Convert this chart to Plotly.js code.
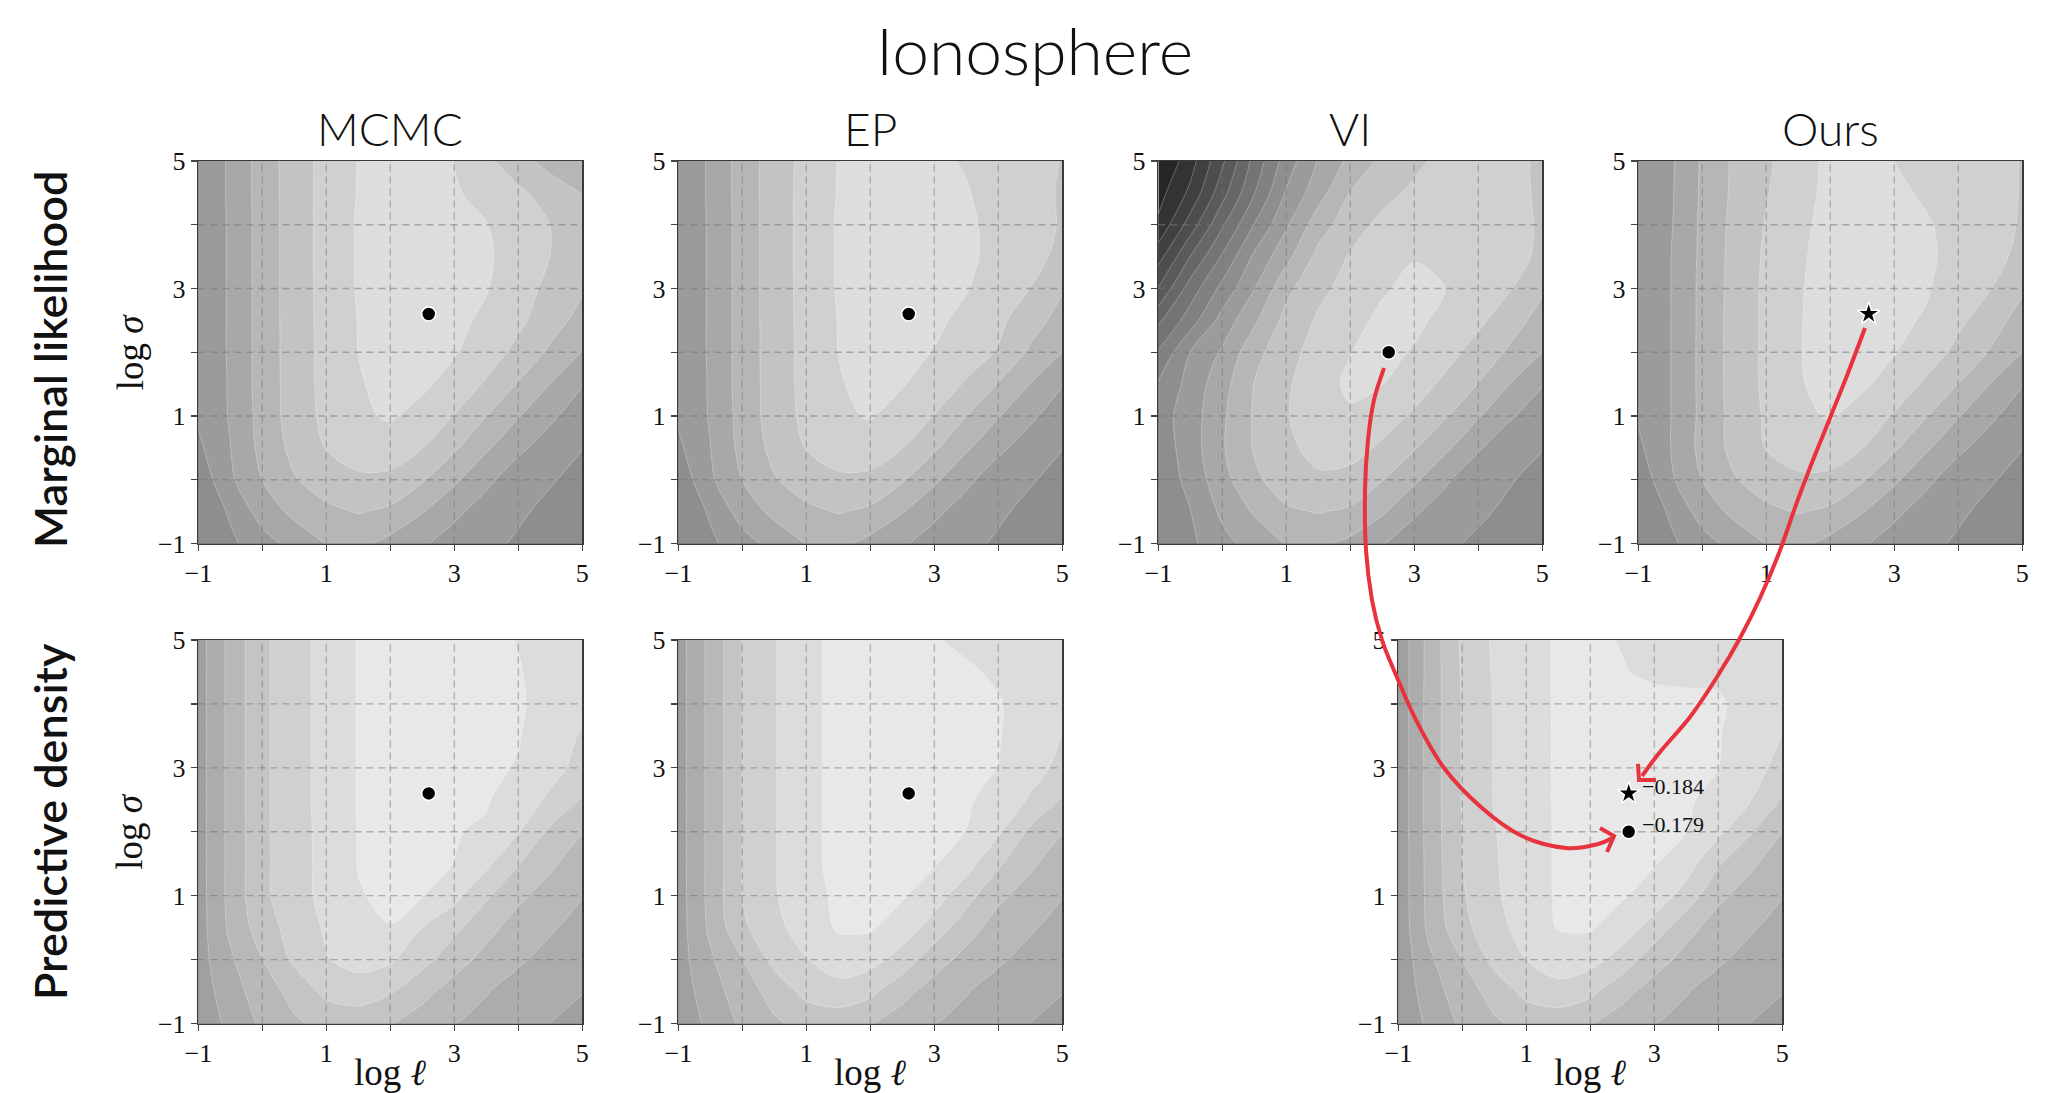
<!DOCTYPE html>
<html><head><meta charset="utf-8">
<script src="https://cdn.plot.ly/plotly-3.0.1.min.js"></script>
<style>html,body{margin:0;padding:0;background:#fff}#chart{width:2067px;height:1093px}</style>
</head><body><div id="chart"></div>
<script>
// ---------------- data ----------------
const figTitle = 'Ionosphere';
const colTitles = ['MCMC', 'EP', 'VI', 'Ours'];
const rowLabels = ['Marginal likelihood', 'Predictive density'];
const xTitle = 'log <i>ℓ</i>';
const yTitle = 'log <i>σ</i>';
const tickVals = [-1, 0, 1, 2, 3, 4, 5];
const tickText = ['−1', '', '1', '', '3', '', '5'];
const gridVals = [0, 1, 2, 3, 4];

const logEll = [-1, -0.5, 0, 0.5, 1, 1.5, 2, 2.5, 3, 3.5, 4, 4.5, 5];
const logSigma = [5, 4.5, 4, 3.5, 3, 2.5, 2, 1.5, 1, 0.5, 0, -0.5, -1]; // rows below, top to bottom

const margMCMC = [
 [9.15,10.15,11.44,12.51,13.33,14.04,14.35,14.35,13.99,13.24,12.4,11.6,11.15],
 [9.15,10.15,11.42,12.5,13.34,14.05,14.35,14.4,14.1,13.69,13.18,12.6,11.95],
 [9.15,10.12,11.42,12.49,13.35,14.1,14.4,14.5,14.3,14.03,13.53,12.99,12.5],
 [9.15,10.12,11.42,12.49,13.35,14.1,14.45,14.5,14.35,14.12,13.62,12.99,12.45],
 [9.15,10.12,11.42,12.49,13.34,14.08,14.45,14.5,14.3,14.05,13.45,12.73,12.1],
 [9.15,10.12,11.42,12.48,13.33,14.03,14.35,14.4,14.2,13.85,13.22,12.44,11.65],
 [9.15,10.12,11.42,12.47,13.3,14.01,14.3,14.3,14.08,13.47,12.73,11.82,10.97],
 [9.15,10.1,11.41,12.46,13.3,13.93,14.25,14.18,13.64,12.88,11.93,10.99,10.05],
 [9.15,10.08,11.38,12.45,13.24,13.82,14.12,13.66,12.96,12.02,11.06,10.18,9.5],
 [8.8,9.98,11.3,12.28,13.04,13.4,13.45,13.02,12.15,11.15,10.2,9.55,9.03],
 [8.3,9.83,11.01,11.93,12.5,12.85,12.8,12.1,11.18,10.2,9.5,9.1,8.65],
 [8.1,9.14,10.43,11.25,11.78,12.06,11.8,11.05,10.18,9.63,9.18,8.7,8.3],
 [8.2,8.8,9.6,10.34,11.03,11.25,10.7,10.1,9.65,9.27,8.85,8.5,8.2]
];
const margEP = [
 [9.15,10.15,11.44,12.5,13.3,14.04,14.35,14.4,14.15,13.94,13.6,13.3,12.97],
 [9.15,10.15,11.42,12.5,13.34,14.05,14.35,14.4,14.2,14.05,13.7,13.33,12.9],
 [9.15,10.12,11.42,12.49,13.35,14.1,14.4,14.5,14.3,14.12,13.8,13.35,12.92],
 [9.15,10.12,11.42,12.49,13.35,14.1,14.45,14.5,14.35,14.15,13.77,13.26,12.8],
 [9.15,10.12,11.42,12.49,13.34,14.08,14.45,14.5,14.3,14.05,13.55,12.99,12.1],
 [9.15,10.12,11.42,12.48,13.33,14.03,14.35,14.4,14.18,13.78,13.22,12.45,11.6],
 [9.15,10.12,11.42,12.47,13.3,14.01,14.3,14.3,13.96,13.45,12.93,11.83,11.01],
 [9.15,10.1,11.41,12.46,13.3,13.93,14.25,14.06,13.55,12.9,11.95,10.99,10.05],
 [9.15,10.08,11.38,12.45,13.24,13.82,14.08,13.6,12.97,12.02,11.06,10.18,9.5],
 [8.8,9.98,11.3,12.28,13.04,13.4,13.45,13.02,12.15,11.15,10.2,9.55,9.03],
 [8.3,9.83,11.01,11.93,12.5,12.85,12.8,12.1,11.18,10.2,9.5,9.1,8.65],
 [8.1,9.14,10.43,11.25,11.78,12.06,11.8,11.05,10.18,9.63,9.18,8.7,8.3],
 [8.2,8.8,9.6,10.34,11.03,11.25,10.7,10.1,9.65,9.27,8.85,8.5,8.2]
];
const margVI = [
 [-0.1,1.58,3.81,6.33,8.48,10.07,11.26,12.22,12.78,13.3,13.5,13.3,12.8],
 [0.6,2.23,4.63,6.96,9.09,10.6,12.03,12.7,13.2,13.45,13.55,13.35,12.8],
 [1.2,3.47,5.86,8.04,9.87,11.54,12.59,13.25,13.55,13.7,13.65,13.4,12.85],
 [2.6,5.02,7.12,9.19,10.7,12.29,13.08,13.5,13.95,13.95,13.7,13.35,12.8],
 [4.05,6.46,8.3,9.97,11.75,12.75,13.37,13.9,14.25,13.99,13.5,13.05,12.15],
 [5.8,7.52,9.4,10.82,12.32,13.13,13.7,14.2,14.2,13.75,13.2,12.45,11.6],
 [7.1,9.02,10.14,11.67,12.67,13.37,13.98,14.25,13.92,13.32,12.63,11.82,11.01],
 [8.1,9.35,10.63,12.03,12.87,13.56,14.2,14.02,13.42,12.78,11.98,10.99,10.05],
 [8.55,9.5,10.84,12.1,12.93,13.6,13.85,13.4,12.87,12.06,11.1,10.1,9.5],
 [8.4,9.5,10.9,12.08,12.8,13.3,13.35,12.85,12.07,11.18,10.1,9.4,9.05],
 [8.3,9.3,10.66,11.81,12.5,12.85,12.7,12.03,11.18,10.1,9.45,9.08,8.6],
 [8.3,8.97,10.2,11.1,11.85,12.05,11.85,11.15,10.1,9.62,9.2,8.75,8.4],
 [8.3,8.8,9.7,10.4,11.05,11.2,10.75,10.05,9.6,9.2,8.8,8.5,8.2]
];
const margOurs = [
 [9.1,9.82,11.14,12.16,12.82,13.63,14.2,14.3,13.99,13.74,13.48,13.23,12.97],
 [9.1,9.86,11.16,12.2,12.93,13.71,14.2,14.35,14.15,13.9,13.58,13.27,12.96],
 [9.1,9.9,11.2,12.27,13.07,13.82,14.25,14.4,14.3,14.07,13.75,13.33,12.92],
 [9.1,9.97,11.22,12.32,13.15,13.88,14.3,14.45,14.35,14.12,13.77,13.26,12.8],
 [9.1,9.98,11.25,12.35,13.19,13.93,14.3,14.4,14.25,14.07,13.6,13.04,12.15],
 [9.1,9.98,11.25,12.37,13.2,13.95,14.3,14.35,14.15,13.93,13.22,12.45,11.6],
 [9.1,9.98,11.26,12.38,13.2,13.96,14.3,14.25,14.05,13.5,12.73,11.93,11.01],
 [9.1,9.98,11.26,12.37,13.2,13.93,14.25,14.15,13.62,12.83,11.99,10.99,10.05],
 [9.1,9.98,11.24,12.35,13.12,13.75,14.1,13.6,12.9,12.05,11.06,10.18,9.5],
 [8.8,9.98,11.3,12.28,13.04,13.4,13.45,13.02,12.15,11.15,10.2,9.55,9.03],
 [8.3,9.83,11.01,11.93,12.5,12.85,12.8,12.1,11.18,10.2,9.5,9.1,8.65],
 [8.1,9.14,10.43,11.25,11.78,12.06,11.8,11.05,10.18,9.63,9.18,8.7,8.3],
 [8.2,8.8,9.6,10.34,11.03,11.25,10.7,10.1,9.65,9.27,8.85,8.5,8.2]
];
const predMCMC = [
 [8.55,10.29,11.81,12.61,13.35,14.05,14.3,14.4,14.35,14.2,13.97,13.7,13.45],
 [8.55,10.29,11.81,12.61,13.35,14.05,14.3,14.4,14.35,14.25,14.05,13.7,13.4],
 [8.55,10.29,11.81,12.61,13.35,14.05,14.3,14.4,14.4,14.3,14.1,13.7,13.35],
 [8.55,10.29,11.81,12.61,13.35,14.05,14.3,14.4,14.4,14.25,14.05,13.5,12.9],
 [8.55,10.29,11.81,12.61,13.35,14.05,14.3,14.45,14.3,14.15,13.95,13.3,12.7],
 [8.55,10.29,11.81,12.61,13.35,14.05,14.3,14.4,14.25,14.08,13.5,12.85,11.9],
 [8.55,10.29,11.8,12.6,13.32,14.04,14.3,14.2,14.05,13.88,13.05,11.8,11.03],
 [8.55,10.29,11.79,12.6,13.3,14.03,14.25,14.2,13.99,13.22,12.05,11.17,10.45],
 [8.55,10.29,11.79,12.59,13.3,13.95,14.15,14.03,13.3,12.15,11.2,10.6,10.05],
 [8.55,10.2,11.5,12.42,13.12,13.9,13.98,12.99,12.25,11.3,10.6,10.13,9.6],
 [8.55,9.85,10.98,12.2,12.95,13.35,13.15,12.35,11.4,10.7,10.15,9.65,9.3],
 [8.4,9.6,10.48,11.35,12.25,12.5,12.1,11.3,10.6,10.05,9.6,9.3,9.03],
 [8.35,9.25,10.2,10.85,11.3,11.4,11.05,10.55,10.03,9.75,9.4,8.99,8.7]
];
const predEP = [
 [8.55,10.29,12.02,12.93,13.85,14.15,14.35,14.3,14.05,13.85,13.7,13.55,13.45],
 [8.55,10.29,12.02,12.93,13.85,14.15,14.4,14.4,14.25,14.1,13.9,13.7,13.5],
 [8.55,10.29,12.02,12.93,13.85,14.15,14.4,14.45,14.35,14.25,14.05,13.72,13.45],
 [8.55,10.29,12.02,12.93,13.85,14.15,14.4,14.45,14.4,14.25,14.05,13.5,12.95],
 [8.55,10.29,12.02,12.93,13.85,14.15,14.4,14.45,14.35,14.2,13.99,13.35,12.75],
 [8.55,10.29,12.02,12.93,13.85,14.15,14.4,14.4,14.25,14.12,13.65,12.9,11.9],
 [8.55,10.29,12.02,12.93,13.85,14.15,14.35,14.3,14.15,13.99,13.15,11.8,11.03],
 [8.55,10.29,12.02,12.93,13.85,14.15,14.3,14.22,14.08,13.4,12.15,11.17,10.45],
 [8.55,10.29,12.02,12.9,13.8,14.1,14.2,14.1,13.45,12.4,11.2,10.6,10.05],
 [8.55,10.2,11.82,12.7,13.5,14.1,14.12,13.52,12.6,11.4,10.6,10.13,9.6],
 [8.55,9.85,10.98,12.3,12.95,13.55,13.35,12.6,11.4,10.7,10.15,9.65,9.3],
 [8.4,9.6,10.48,11.4,12.3,12.6,12.25,11.3,10.6,10.05,9.6,9.3,9.03],
 [8.35,9.25,10.2,10.85,11.3,11.4,11.05,10.55,10.03,9.75,9.4,8.99,8.7]
];
const predOurs = [
 [8.3,10.4,12.2,13.15,13.66,14.1,14.2,13.95,13.75,13.65,13.65,13.55,13.45],
 [8.3,10.42,12.12,13.1,13.65,14.1,14.25,14.05,13.85,13.8,13.85,13.6,13.45],
 [8.3,10.45,12.06,13.05,13.63,14.1,14.35,14.35,14.25,14.2,14.1,13.7,13.4],
 [8.3,10.45,12.06,13.05,13.63,14.1,14.4,14.4,14.35,14.2,14.05,13.5,12.97],
 [8.3,10.45,12.06,13.05,13.63,14.1,14.4,14.35,14.3,14.15,14.01,13.35,12.7],
 [8.3,10.45,12.06,13.05,13.63,14.1,14.35,14.3,14.2,14.08,13.8,13.05,11.9],
 [8.3,10.45,12.02,12.95,13.6,14.1,14.3,14.2,14.1,14.02,13.25,12.1,11.02],
 [8.3,10.42,11.98,12.9,13.6,14.1,14.2,14.15,14.05,13.45,12.1,11.17,10.45],
 [8.3,10.38,11.9,12.85,13.55,14.1,14.2,14.1,13.6,12.6,11.2,10.6,10.05],
 [8.3,10.3,11.7,12.65,13.4,14.05,14.1,13.5,12.6,11.3,10.6,10.13,9.6],
 [8.3,9.85,11.01,12.3,13.01,13.6,13.35,12.6,11.4,10.7,10.15,9.65,9.3],
 [8.2,9.6,10.48,11.4,12.3,12.6,12.25,11.3,10.6,10.05,9.6,9.3,9.03],
 [8.15,9.25,10.2,10.85,11.3,11.4,11.05,10.55,10.03,9.75,9.4,8.99,8.7]
];

// selected hyper-parameters (log ℓ, log σ)
const margOptEll   = [2.6, 2.6, 2.6, 2.6];
const margOptSigma = [2.6, 2.6, 2.0, 2.6];
const predOptEll   = [2.6, 2.6];
const predOptSigma = [2.6, 2.6];
const compareEll   = [2.6, 2.6];          // VI, Ours
const compareSigma = [2.0, 2.6];
const compareValue = ['−0.179', '−0.184'];

// ---------------- styling ----------------
const W = 2067, H = 1093;
const topGrays = [38,51,64,77,90,103,116,129,142,155,168,182,195,208,221];
const botGrays = [64,76,88,100,112,124,136,148,160,172,184,196,208,220,232];
function scale(g){ return g.map((v,i)=>[i/(g.length-1), `rgb(${v},${v},${v})`]); }
const serif = '"Liberation Serif", "DejaVu Serif", serif';
const sans = 'Lato, "Open Sans", sans-serif';
const red = '#e8333e';

const px = (x)=>x/W, py = (y)=>1-y/H;
const topY = [py(543.5), py(161)], botY = [py(1023.5), py(640)];
const colX = [[198.3,582.3],[678.3,1062.3],[1158.3,1542.3],[1638.3,2022.3]].map(d=>[px(d[0]),px(d[1])]);
const brX = [px(1398.3), px(1782.3)];

const panels = [
  {z: margMCMC, x: colX[0], y: topY, sc: topGrays, xt:false, yt:true},
  {z: margEP,   x: colX[1], y: topY, sc: topGrays, xt:false, yt:false},
  {z: margVI,   x: colX[2], y: topY, sc: topGrays, xt:false, yt:false},
  {z: margOurs, x: colX[3], y: topY, sc: topGrays, xt:false, yt:false},
  {z: predMCMC, x: colX[0], y: botY, sc: botGrays, xt:true, yt:true},
  {z: predEP,   x: colX[1], y: botY, sc: botGrays, xt:true, yt:false},
  {z: predOurs, x: brX,     y: botY, sc: botGrays, xt:true, yt:false}
];

const yAsc = logSigma.slice().reverse();
const traces = [];
const layout = {
  width: W, height: H, margin: {l:0, r:0, t:0, b:0},
  paper_bgcolor: '#fff', plot_bgcolor: '#fff', showlegend: false,
  annotations: [], shapes: []
};

function axisStyle(domain, anchor){
  return {
    domain: domain, anchor: anchor, range: [-1, 5], fixedrange: true,
    tickmode: 'array', tickvals: tickVals, ticktext: tickText,
    ticks: 'outside', ticklen: 6, tickwidth: 1.2, tickcolor: '#444',
    showgrid: false, zeroline: false, showline: true, mirror: true,
    linecolor: '#3a3a3a', linewidth: 1.5,
    tickfont: {family: serif, size: 26, color: '#111'}
  };
}

panels.forEach((p, i) => {
  const n = i + 1;
  const xa = 'x' + (n === 1 ? '' : n), ya = 'y' + (n === 1 ? '' : n);
  layout['xaxis' + (n === 1 ? '' : n)] = axisStyle(p.x, ya);
  layout['yaxis' + (n === 1 ? '' : n)] = axisStyle(p.y, xa);
  traces.push({
    type: 'contour', x: logEll, y: yAsc, z: p.z.slice().reverse(),
    xaxis: xa, yaxis: ya, autocontour: false,
    contours: {start: 1, end: 14, size: 1, coloring: 'fill', showlines: true},
    line: {color: 'rgba(255,255,255,0.35)', width: 0.8, smoothing: 0.9},
    colorscale: scale(p.sc), showscale: false, hoverinfo: 'skip'
  });
  // dashed grid at integer positions
  const gx = [], gy = [];
  gridVals.forEach(v => { gx.push(v, v, null, -1, 5, null); gy.push(-1, 5, null, v, v, null); });
  traces.push({
    type: 'scatter', mode: 'lines', x: gx, y: gy, xaxis: xa, yaxis: ya,
    line: {color: 'rgba(120,120,120,0.55)', width: 1.3, dash: '7px,5px'},
    hoverinfo: 'skip', connectgaps: false
  });
  if (p.yt) layout.annotations.push({
    xref: 'paper', yref: 'paper', x: px(130), y: (p.y[0] + p.y[1]) / 2,
    text: yTitle, showarrow: false, textangle: -90,
    font: {family: serif, size: 37, color: '#111'}, xanchor: 'center', yanchor: 'middle'
  });
  if (p.xt) layout.annotations.push({
    xref: 'paper', yref: 'paper', x: (p.x[0] + p.x[1]) / 2, y: py(1072),
    text: xTitle, showarrow: false,
    font: {family: serif, size: 37, color: '#111'}, xanchor: 'center', yanchor: 'middle'
  });
});

// optimum markers, marginal-likelihood row
for (let k = 0; k < 4; k++) {
  const n = k + 1;
  traces.push({
    type: 'scatter', mode: 'markers', x: [margOptEll[k]], y: [margOptSigma[k]],
    xaxis: 'x' + (n === 1 ? '' : n), yaxis: 'y' + (n === 1 ? '' : n),
    marker: {symbol: k === 3 ? 'star' : 'circle', size: k === 3 ? 17 : 14, color: '#000',
             line: {color: '#fff', width: 1.5}}, hoverinfo: 'skip'
  });
}
for (let k = 0; k < 2; k++) {
  traces.push({
    type: 'scatter', mode: 'markers', x: [predOptEll[k]], y: [predOptSigma[k]],
    xaxis: 'x' + (k + 5), yaxis: 'y' + (k + 5),
    marker: {symbol: 'circle', size: 14, color: '#000', line: {color: '#fff', width: 1.5}}, hoverinfo: 'skip'
  });
}
compareEll.forEach((e, k) => traces.push({
  type: 'scatter', mode: 'markers', x: [e], y: [compareSigma[k]], xaxis: 'x7', yaxis: 'y7',
  marker: {symbol: k === 0 ? 'circle' : 'star', size: k === 0 ? 14 : 17, color: '#000',
           line: {color: '#fff', width: 1.5}},
  hoverinfo: 'skip'
}));
compareValue.forEach((t, k) => layout.annotations.push({
  xref: 'x7', yref: 'y7', x: compareEll[k], y: compareSigma[k], text: t, showarrow: false,
  xanchor: 'left', yanchor: 'middle', xshift: 11, yshift: 7,
  font: {family: serif, size: 22, color: '#111'}
}));

// titles
layout.annotations.push({
  xref: 'paper', yref: 'paper', x: px(1034), y: py(50), text: figTitle, showarrow: false,
  font: {family: sans, size: 66, color: '#111', weight: 300}, xanchor: 'center', yanchor: 'middle'
});
colTitles.forEach((t, k) => layout.annotations.push({
  xref: 'paper', yref: 'paper', x: (colX[k][0] + colX[k][1]) / 2, y: py(129), text: t, showarrow: false,
  font: {family: sans, size: 46, color: '#111', weight: 300}, xanchor: 'center', yanchor: 'middle'
}));
rowLabels.forEach((t, k) => layout.annotations.push({
  xref: 'paper', yref: 'paper', x: px(50), y: k === 0 ? py(360) : py(822), text: t, showarrow: false,
  textangle: -90, font: {family: sans, size: 45, color: '#111', weight: 600},
  xanchor: 'center', yanchor: 'middle'
}));

// red arrows linking the optima to the predictive-density panel (pixel guide points)
function smoothPath(pts){
  const P = (p)=>px(p[0]).toFixed(5) + ',' + py(p[1]).toFixed(5);
  let d = 'M' + P(pts[0]);
  for (let i = 0; i < pts.length - 1; i++) {
    const p0 = pts[i - 1] || pts[i], p1 = pts[i], p2 = pts[i + 1], p3 = pts[i + 2] || pts[i + 1];
    const c1 = [p1[0] + (p2[0] - p0[0]) / 6, p1[1] + (p2[1] - p0[1]) / 6];
    const c2 = [p2[0] - (p3[0] - p1[0]) / 6, p2[1] - (p3[1] - p1[1]) / 6];
    d += ' C' + P(c1) + ' ' + P(c2) + ' ' + P(p2);
  }
  return d;
}
function poly(pts){
  return pts.map((p, i) => (i ? 'L' : 'M') + px(p[0]).toFixed(5) + ',' + py(p[1]).toFixed(5)).join(' ');
}
const arrowVI = [[1384,368],[1374,400],[1368,440],[1365,490],[1366,550],[1372,600],[1382,640],
  [1396,675],[1416,720],[1444,768],[1482,808],[1522,836],[1566,848],[1598,844],[1612,838]];
const headVI = [[1600,828],[1614,836],[1607,852]];
const arrowOurs = [[1865,328],[1848,373],[1830,418],[1813,460],[1797,502],[1779,553],[1760,598],
  [1740,638],[1717,677],[1690,717],[1660,752],[1642,776]];
const headOurs = [[1638,764],[1639,780],[1656,780]];
[smoothPath(arrowVI), poly(headVI), smoothPath(arrowOurs), poly(headOurs)].forEach(d => layout.shapes.push({
  type: 'path', xref: 'paper', yref: 'paper', path: d, layer: 'above',
  line: {color: red, width: 4}, fillcolor: 'rgba(0,0,0,0)'
}));

Plotly.newPlot('chart', traces, layout, {staticPlot: true, displayModeBar: false});
</script>
</body></html>
